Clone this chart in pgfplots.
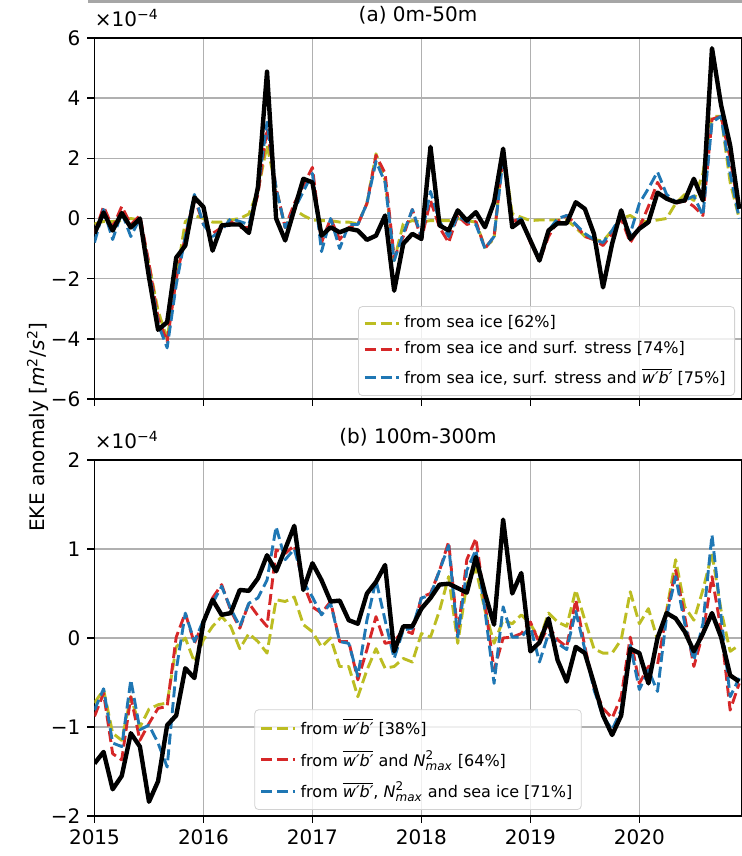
\documentclass[border=0pt]{standalone}
\usepackage{fontspec}
\setmainfont{DejaVu Sans}
\usepackage{amsmath}
\usepackage{pgfplots}
\usepackage{pgfplotstable}
\pgfplotsset{compat=1.18}

\definecolor{tabolive}{HTML}{BCBD22}
\definecolor{tabred}{HTML}{D62728}
\definecolor{tabblue}{HTML}{1F77B4}
\definecolor{gridgray}{HTML}{B0B0B0}

% month index (0 = Jan 2015), EKE anomaly in 1e-4 m^2/s^2
\pgfplotstableread{
m obs ice ist all
0 -0.50 -0.18 -0.50 -0.80
1 0.20 -0.10 0.40 0.30
2 -0.40 -0.10 -0.30 -0.70
3 0.18 -0.07 0.40 0.20
4 -0.30 0.00 -0.20 -0.60
5 0.00 -0.05 0.10 0.00
6 -1.95 -1.50 -1.50 -1.70
7 -3.70 -3.07 -3.30 -3.50
8 -3.45 -4.00 -4.10 -4.30
9 -1.30 -2.00 -2.00 -2.20
10 -0.90 -0.10 -0.60 -0.60
11 0.70 0.10 0.70 0.80
12 0.38 0.00 -0.20 -0.20
13 -1.07 -0.12 -0.50 -0.60
14 -0.23 -0.12 -0.30 -0.40
15 -0.20 -0.05 -0.10 0.00
16 -0.20 0.00 -0.30 -0.10
17 -0.48 0.15 -0.30 -0.20
18 1.05 0.93 0.80 1.00
19 4.88 2.43 3.00 3.20
20 0.00 1.00 1.00 1.00
21 -0.73 -0.30 -0.30 -0.30
22 0.30 0.30 0.50 0.30
23 1.32 0.10 1.10 0.90
24 1.20 -0.05 1.70 1.50
25 -0.57 -0.07 -0.80 -1.10
26 -0.29 -0.07 0.00 0.00
27 -0.46 -0.12 -0.70 -1.00
28 -0.34 -0.12 -0.30 -0.20
29 -0.40 -0.18 -0.20 -0.20
30 -0.71 0.50 0.50 0.50
31 -0.57 2.15 2.10 1.90
32 0.10 1.27 1.50 1.20
33 -2.40 -1.40 -1.30 -1.40
34 -0.84 -0.18 -0.60 -0.50
35 -0.51 -0.07 0.30 0.30
36 -0.68 -0.12 -0.70 -0.60
37 2.38 -0.07 0.60 0.90
38 -0.23 -0.07 -0.30 -0.10
39 -0.40 -0.07 -0.80 -0.60
40 0.27 0.00 0.10 0.10
41 -0.07 -0.07 -0.20 -0.10
42 0.21 -0.12 -0.10 -0.20
43 -0.29 -0.96 -1.00 -1.00
44 0.54 -0.68 -0.60 -0.60
45 2.32 2.27 2.10 2.00
46 -0.29 0.16 -0.10 -0.10
47 -0.07 0.04 0.00 0.00
48 -0.73 -0.07 -0.80 -0.80
49 -1.40 -0.05 -1.40 -1.30
50 -0.40 -0.05 -0.60 -0.40
51 -0.16 -0.05 -0.10 0.00
52 -0.16 -0.05 0.10 0.10
53 0.54 -0.30 -0.20 -0.20
54 0.32 -0.60 -0.60 -0.50
55 -0.51 -0.70 -0.70 -0.70
56 -2.29 -0.75 -0.90 -0.80
57 -0.84 -0.40 -0.50 -0.40
58 0.27 0.00 0.00 0.10
59 -0.68 0.10 -0.80 -0.50
60 -0.34 -0.10 -0.30 0.50
61 -0.12 -0.10 0.40 1.00
62 0.86 -0.05 1.20 1.55
63 0.66 0.00 0.70 0.80
64 0.54 0.50 0.50 0.55
65 0.60 0.80 0.60 0.60
66 1.32 0.60 0.40 0.75
67 0.60 1.50 0.10 0.10
68 5.66 3.40 3.30 3.20
69 3.77 3.40 3.40 3.40
70 2.43 1.20 2.00 1.50
71 0.32 0.00 0.20 0.00
}\topdata

\pgfplotstableread{
m obs wb wbn all
0 -1.41 -0.73 -0.88 -0.81
1 -1.28 -0.58 -0.62 -0.57
2 -1.70 -1.07 -1.30 -1.18
3 -1.55 -1.15 -1.37 -1.22
4 -1.07 -0.66 -0.66 -0.47
5 -1.22 -1.00 -1.15 -1.03
6 -1.84 -0.80 -0.96 -0.98
7 -1.61 -0.75 -0.79 -1.18
8 -0.98 -0.73 -0.77 -1.45
9 -0.87 -0.10 0.01 -0.36
10 -0.34 0.00 0.28 0.28
11 -0.45 -0.27 -0.06 -0.04
12 0.18 -0.02 0.18 0.20
13 0.43 0.13 0.45 0.39
14 0.26 0.24 0.60 0.58
15 0.28 0.13 0.31 0.33
16 0.54 -0.12 0.11 0.13
17 0.53 0.05 0.39 0.39
18 0.67 -0.04 0.25 0.45
19 0.93 -0.17 0.13 0.65
20 0.75 0.43 0.99 1.25
21 1.00 0.41 0.95 0.88
22 1.26 0.46 1.04 1.00
23 0.54 0.15 0.61 0.63
24 0.84 0.07 0.35 0.46
25 0.65 -0.10 0.28 0.26
26 0.41 0.00 0.41 0.39
27 0.42 -0.32 -0.04 -0.04
28 0.20 -0.32 -0.04 -0.06
29 0.16 -0.66 -0.47 -0.43
30 0.50 -0.36 -0.13 0.20
31 0.63 -0.12 0.24 0.65
32 0.82 -0.34 -0.06 0.20
33 -0.15 -0.32 -0.04 -0.23
34 0.13 -0.23 0.09 0.09
35 0.13 -0.27 0.05 0.11
36 0.33 0.05 0.46 0.45
37 0.45 0.01 0.50 0.48
38 0.60 0.31 0.76 0.76
39 0.61 0.69 1.08 1.04
40 0.56 -0.06 0.05 0.01
41 0.51 0.61 0.88 0.76
42 0.91 0.78 1.12 0.99
43 0.50 0.31 0.39 0.31
44 0.15 -0.06 -0.36 -0.51
45 1.33 0.20 0.00 0.35
46 0.50 0.16 0.01 0.01
47 0.73 0.26 0.05 0.01
48 -0.15 0.16 0.18 0.13
49 -0.05 -0.02 -0.06 -0.27
50 0.22 0.28 0.13 0.05
51 -0.25 0.18 -0.02 -0.06
52 -0.49 0.13 -0.10 -0.13
53 -0.10 0.54 0.43 0.30
54 -0.17 0.20 -0.10 -0.13
55 -0.51 -0.12 -0.55 -0.58
56 -0.87 -0.17 -0.79 -0.88
57 -1.09 -0.17 -0.90 -1.03
58 -0.87 -0.02 -0.66 -0.81
59 -0.12 0.52 0.01 -0.08
60 -0.17 0.16 -0.51 -0.58
61 -0.51 0.33 -0.32 -0.36
62 0.00 -0.02 -0.30 -0.60
63 0.28 0.31 0.28 0.24
64 0.22 0.88 0.76 0.69
65 0.07 0.35 0.24 0.16
66 -0.15 0.20 -0.32 -0.25
67 0.05 0.54 0.05 0.16
68 0.28 0.95 0.69 1.16
69 0.01 0.31 0.09 0.24
70 -0.42 -0.15 -0.81 -0.66
71 -0.49 -0.08 -0.51 -0.45
}\botdata

\pgfplotsset{
  ekeaxis/.style={
    scale only axis,
    width=323.5pt,
    xmin=0, xmax=71.25,
    xtick={0,12,24,36,48,60},
    grid=major,
    major grid style={color=gridgray, line width=0.8pt},
    axis line style={line width=0.8pt},
    tick align=outside,
    tick pos=left,
    major tick length=3.5pt,
    every tick/.style={black, line width=0.8pt},
    ticklabel style={font=\fontsize{10}{12}\selectfont},
    title style={font=\fontsize{10}{12}\selectfont, at={(0.5,1)}, anchor=base, yshift=2pt},
    legend cell align=left,
    legend image code/.code={\draw[##1] (0pt,0pt) -- (17pt,0pt);},
    clip mode=individual,
  },
  obs/.style={black, line width=2.2pt, line join=round, forget plot},
  dsh/.style={dash pattern=on 5.5pt off 2.4pt, line width=1.45pt, line join=round},
}
\tikzset{sci/.style={anchor=base west, font=\fontsize{10}{12}\selectfont, inner sep=0pt, yshift=5.5pt}}

\begin{document}
\begin{tikzpicture}
\begin{axis}[ekeaxis,
    at={(0,0)}, anchor=south west,
    height=180.5pt,
    ymin=-6, ymax=6,
    ytick={-6,-4,-2,0,2,4,6},
    yticklabels={−6,−4,−2,0,2,4,6},
    xticklabels={},
    title={(a) 0m-50m},
    legend style={at={(1,0)}, anchor=south east, xshift=-3.25pt, yshift=1.5pt,
      font=\fontsize{8}{9.6}\selectfont, draw=gray!35, fill=white, fill opacity=0.8,
      text opacity=1, rounded corners=2pt, row sep=1.5pt, inner sep=2.5pt},
  ]
\addplot[tabolive, dsh] table[x=m, y=ice] {\topdata};
\addlegendentry{from sea ice [62\%]}
\addplot[tabred, dsh] table[x=m, y=ist] {\topdata};
\addlegendentry{from sea ice and surf. stress [74\%]}
\addplot[tabblue, dsh] table[x=m, y=all] {\topdata};
\addlegendentry{from sea ice, surf. stress and $\overline{\hbox{\itshape w′b′}}$ [75\%]}
\addplot[obs] table[x=m, y=obs] {\topdata};
\node[sci] at (rel axis cs:0,1) {×10\textsuperscript{−4}};
\end{axis}

\begin{axis}[ekeaxis,
    at={(0,-30.5pt)}, anchor=north west,
    height=178pt,
    ymin=-2, ymax=2,
    ytick={-2,-1,0,1,2},
    yticklabels={−2,−1,0,1,2},
    xticklabels={2015,2016,2017,2018,2019,2020},
    title={(b) 100m-300m},
    legend style={at={(0.5,0)}, anchor=south, yshift=3pt,
      font=\fontsize{8}{9.6}\selectfont, draw=gray!35, fill=white, fill opacity=0.8,
      text opacity=1, rounded corners=2pt, row sep=2.4pt, inner sep=2.5pt},
  ]
\addplot[tabolive, dsh] table[x=m, y=wb] {\botdata};
\addlegendentry{from $\overline{\hbox{\itshape w′b′}}$ [38\%]}
\addplot[tabred, dsh] table[x=m, y=wbn] {\botdata};
\addlegendentry{from $\overline{\hbox{\itshape w′b′}}$ and $\textit{N}^{\text{2}}_{\textit{max}}$ [64\%]}
\addplot[tabblue, dsh] table[x=m, y=all] {\botdata};
\addlegendentry{from $\overline{\hbox{\itshape w′b′}}$, $\textit{N}^{\text{2}}_{\textit{max}}$ and sea ice [71\%]}
\addplot[obs] table[x=m, y=obs] {\botdata};
\node[sci] at (rel axis cs:0,1) {×10\textsuperscript{−4}};
\end{axis}

\node[rotate=90, font=\fontsize{10}{12}\selectfont] at (-28.25pt,-14pt) {EKE anomaly [\textit{m}\textsuperscript{2}/\textit{s}\textsuperscript{2}]};
\draw[gray!70, line width=1.5pt] (-3.25pt,198.75pt) -- (324pt,198.75pt);
\pgfresetboundingbox
\path[use as bounding box] (-47.25pt,-228.5pt) rectangle (323.25pt,199.5pt);
\end{tikzpicture}
\end{document}
